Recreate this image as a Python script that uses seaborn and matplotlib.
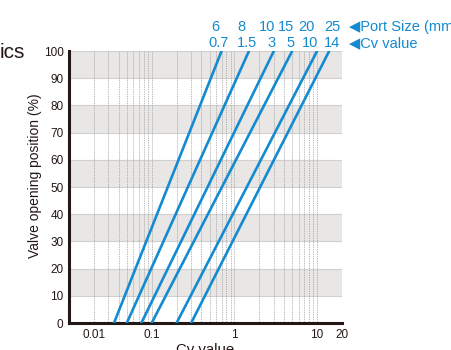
import numpy as np
import pandas as pd
import matplotlib
matplotlib.use("Agg")
import matplotlib.pyplot as plt
import matplotlib.transforms as mtransforms
import seaborn as sns

# Port sizes (mm) and the Cv range of each valve, from fully closed to fully open
port_sizes = ["6", "8", "10", "15", "20", "25"]
cv_closed = [0.035, 0.05, 0.075, 0.1, 0.2, 0.3]
cv_open = [0.7, 1.5, 3, 5, 10, 14]
cv_open_labels = ["0.7", "1.5", "3", "5", "10", "14"]
opening = [0, 100]

x_ticks = [0.02, 0.1, 1, 10, 20]
x_tick_labels = ["0.01", "0.1", "1", "10", "20"]
y_ticks = list(range(0, 101, 10))

rows = []
for size, lo, hi in zip(port_sizes, cv_closed, cv_open):
    rows.append({"port": size, "opening": opening[0], "cv": lo})
    rows.append({"port": size, "opening": opening[1], "cv": hi})
df = pd.DataFrame(rows)

sns.set_theme(style="white")
plt.rcParams["font.family"] = ["Liberation Sans", "DejaVu Sans"]

BLUE = "#148ad0"
DARK = "#231815"

fig = plt.figure(figsize=(4.51, 3.5), dpi=100)
ax = fig.add_axes([69 / 451, 27 / 350, 273 / 451, 272 / 350])

# alternating gray bands
for y0 in range(10, 100, 20):
    ax.axhspan(y0, y0 + 10, color="#e9e7e6", zorder=0, lw=0)
for y in range(10, 101, 10):
    ax.axhline(y, color="#d2d0cf", lw=0.8, zorder=0.5)

# dotted minor grid: 2..10 of each decade
grid_x = [m * d for d in (0.01, 0.1, 1) for m in range(2, 11)]
for gx in grid_x:
    ax.plot([gx, gx], [0, 100], color="#8f8f8f", lw=0.55, ls=(0, (1, 1.3)), zorder=1)

sns.lineplot(data=df, x="cv", y="opening", hue="port", palette=[BLUE] * len(port_sizes),
             lw=1.9, legend=False, ax=ax, zorder=3)

ax.set_xscale("log")
ax.set_xlim(0.01, 20)
ax.set_ylim(0, 100)
ax.set_xticks(x_ticks)
ax.set_xticklabels(x_tick_labels)
ax.xaxis.set_minor_locator(matplotlib.ticker.NullLocator())
ax.set_yticks(y_ticks)
ax.set_yticklabels([str(v) for v in y_ticks])
ax.tick_params(axis="both", length=0, labelsize=8.5, colors=DARK, pad=4)

for side in ("top", "right"):
    ax.spines[side].set_visible(False)
for side in ("left", "bottom"):
    ax.spines[side].set_color(DARK)
    ax.spines[side].set_linewidth(2.2)

ax.set_xlabel("Cv value", fontsize=10.8, color=DARK, labelpad=2)
ax.set_ylabel("Valve opening position (%)", fontsize=10, color=DARK)
ax.yaxis.set_label_coords(-0.1, 0.54)

# size / Cv labels above the open end of each line, nudged (px) so they do not collide
size_nudge = [-6, -8, -7, -6, -11, 3]
cv_nudge = [-3, -2, -2, -2, -7, 3]
trans = mtransforms.blended_transform_factory(ax.transData, fig.transFigure)
for size, hi, lab, ns, nc in zip(port_sizes, cv_open, cv_open_labels, size_nudge, cv_nudge):
    t_s = trans + mtransforms.ScaledTranslation(ns / 100, 0, fig.dpi_scale_trans)
    t_c = trans + mtransforms.ScaledTranslation(nc / 100, 0, fig.dpi_scale_trans)
    ax.text(hi, 1 - 31 / 350, size, transform=t_s, ha="center", va="baseline",
            color=BLUE, fontsize=10.5, clip_on=False)
    ax.text(hi, 1 - 47 / 350, lab, transform=t_c, ha="center", va="baseline",
            color=BLUE, fontsize=10.5, clip_on=False)

fig.text(349 / 451, 1 - 31 / 350, "\u25c0Port Size (mm)", color=BLUE, fontsize=10.5,
         ha="left", va="baseline")
fig.text(349 / 451, 1 - 47 / 350, "\u25c0Cv value", color=BLUE, fontsize=10.5,
         ha="left", va="baseline")
fig.text(0.0, 1 - 58 / 350, "ics", color=DARK, fontsize=15, ha="left", va="baseline")

fig.savefig("out.png", dpi=100)
